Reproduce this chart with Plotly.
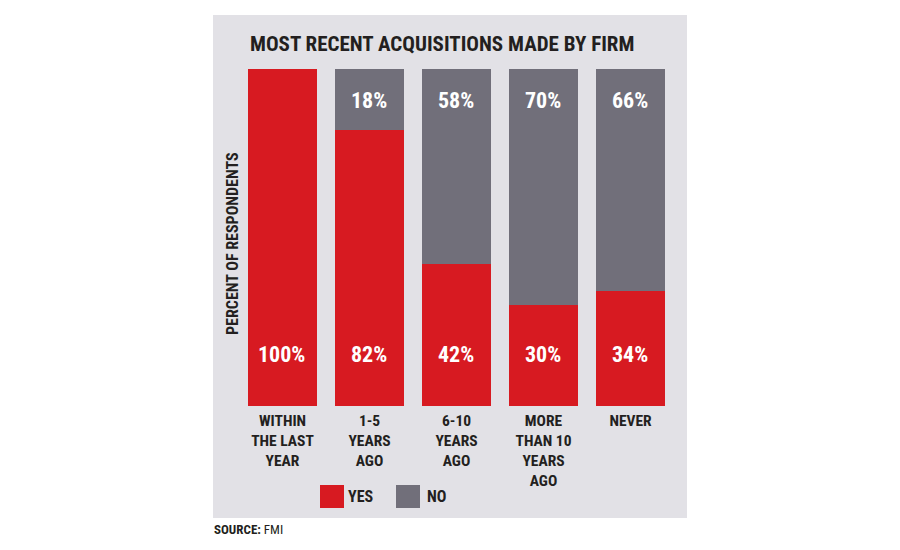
import plotly.graph_objects as go

categories = ["WITHIN<br>THE LAST<br>YEAR", "1-5<br>YEARS<br>AGO", "6-10<br>YEARS<br>AGO",
              "MORE<br>THAN 10<br>YEARS<br>AGO", "NEVER"]
yes_values = [100, 82, 42, 30, 34]
no_values = [0, 18, 58, 70, 66]

RED = "#d71a21"
GRAY = "#716f7a"
PANEL = "#e2e1e6"
DARK = "#231f20"
FONT = "Roboto Condensed, Liberation Sans, sans-serif"

fig = go.Figure()
fig.add_bar(x=categories, y=yes_values, name="YES", marker_color=RED, marker_line_width=0)
fig.add_bar(x=categories, y=no_values, name="NO", marker_color=GRAY, marker_line_width=0)

annotations = []
for c, yv, nv in zip(categories, yes_values, no_values):
    annotations.append(dict(x=c, y=0, xref="x", yref="y", text=f"<b>{yv}%</b>", showarrow=False,
                            yshift=52, xshift=-1, font=dict(color="white", size=22, family=FONT)))
    if nv > 0:
        annotations.append(dict(x=c, y=100, xref="x", yref="y", text=f"<b>{nv}%</b>", showarrow=False,
                                yshift=-31, xshift=-1, font=dict(color="white", size=22, family=FONT)))


def px(x):
    return (x - 239) / 435


def py(y):
    return (406 - y) / 337


annotations += [
    dict(x=px(248), y=py(44), xref="paper", yref="paper", xanchor="left", yanchor="middle",
         text="<b>MOST RECENT ACQUISITIONS MADE BY FIRM</b>", showarrow=False,
         font=dict(color=DARK, size=21, family=FONT)),
    dict(x=px(232), y=py(244), xref="paper", yref="paper", xanchor="center", yanchor="middle",
         text="<b>PERCENT OF RESPONDENTS</b>", textangle=-90, showarrow=False,
         font=dict(color=DARK, size=16, family=FONT)),
    dict(x=px(346), y=py(497), xref="paper", yref="paper", xanchor="left",
         yanchor="middle", text="<b>YES</b>", showarrow=False, font=dict(color=DARK, size=16, family=FONT)),
    dict(x=px(425), y=py(497), xref="paper", yref="paper", xanchor="left",
         yanchor="middle", text="<b>NO</b>", showarrow=False, font=dict(color=DARK, size=16, family=FONT)),
    dict(x=px(212), y=py(529), xref="paper", yref="paper", xanchor="left", yanchor="middle",
         text="<b>SOURCE:</b> FMI", showarrow=False, font=dict(color=DARK, size=13, family=FONT)),
]

shapes = [
    dict(type="rect", xref="paper", yref="paper", x0=px(213), x1=px(687), y0=py(518), y1=py(15),
         fillcolor=PANEL, line_width=0, layer="below"),
    dict(type="rect", xref="paper", yref="paper", x0=px(320), x1=px(344), y0=py(508), y1=py(485),
         fillcolor=RED, line_width=0),
    dict(type="rect", xref="paper", yref="paper", x0=px(396), x1=px(420), y0=py(508), y1=py(485),
         fillcolor=GRAY, line_width=0),
]

fig.update_layout(
    width=900, height=550,
    margin=dict(l=239, r=226, t=69, b=144),
    barmode="stack", bargap=0.21,
    paper_bgcolor="white", plot_bgcolor="rgba(0,0,0,0)",
    showlegend=False,
    annotations=annotations, shapes=shapes,
    font=dict(family=FONT, color=DARK),
)
fig.update_xaxes(showgrid=False, showline=False, zeroline=False, ticks="", ticklen=0,
                 ticklabelstandoff=3,
                 tickfont=dict(size=15.5, color=DARK, family=FONT), tickprefix="<b>", ticksuffix="</b>")
fig.update_yaxes(range=[0, 100], visible=False)

fig.write_html("out.html")
